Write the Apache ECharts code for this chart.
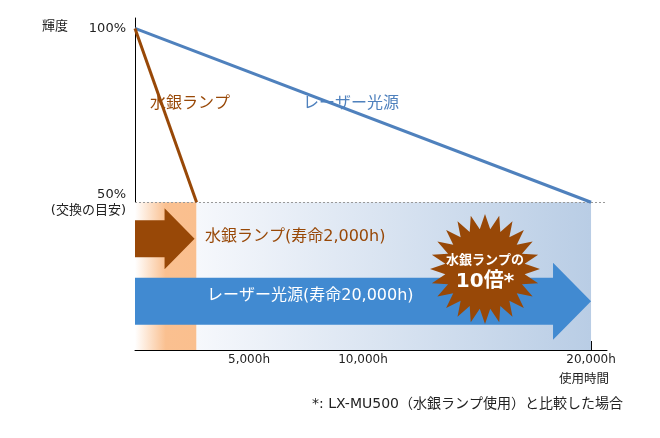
<!DOCTYPE html>
<html><head><meta charset="utf-8">
<script src="https://cdn.jsdelivr.net/npm/echarts@6/dist/echarts.min.js"></script>
<style>html,body{margin:0;padding:0;background:#fff}#c{width:660px;height:438px}</style>
</head><body><div id="c"></div>
<script>
const FONT = '"DejaVu Sans", "Noto Sans CJK JP", sans-serif';
// data
const laserLine = [[0, 100], [20000, 50]];
const mercuryLine = [[0, 100], [2700, 50]];
const mercuryLife = 2700;
const laserLife = 20000;
const replaceLevel = 50;
const xTicks = [5000, 10000, 20000];
const xTickLabels = ['5,000h', '10,000h', '20,000h'];
const yTicks = [50, 100];
const yTickLabels = ['50%', '100%'];
// [from, to, level, kind]
const arrowData = [[0, mercuryLife, 39.5, 0], [0, laserLife, 21.5, 1]];
const X_MAX = 20700, Y_MIN = 7.5, Y_MAX = 103;

const BROWN = '#984807', BLUE_LINE = '#4f81bd', BLUE_ARROW = '#418ad1';

const chart = echarts.init(document.getElementById('c'));

function starPoints(cx, cy, ro, ri, n) {
  const pts = [];
  for (let i = 0; i < n * 2; i++) {
    const r = i % 2 === 0 ? ro : ri;
    const a = -Math.PI / 2 + i * Math.PI / n;
    pts.push([cx + r * Math.cos(a), cy + r * Math.sin(a)]);
  }
  return pts;
}

chart.setOption({
  animation: false,
  textStyle: { fontFamily: FONT },
  grid: { left: 135, right: 53, top: 18, bottom: 88 },
  xAxis: {
    type: 'value', min: 0, max: X_MAX,
    splitLine: { show: false },
    axisLine: { lineStyle: { color: '#000', width: 1 } },
    axisTick: { show: true, inside: true, length: 9, customValues: xTicks, lineStyle: { color: '#000' } },
    axisLabel: {
      customValues: xTicks, color: '#222', fontSize: 12, margin: 4, fontFamily: FONT,
      formatter: v => xTickLabels[xTicks.indexOf(v)] || ''
    }
  },
  yAxis: {
    type: 'value', min: Y_MIN, max: Y_MAX,
    splitLine: { show: false },
    axisLine: { show: true, lineStyle: { color: '#000', width: 1 } },
    axisTick: { show: false },
    axisLabel: {
      customValues: yTicks, color: '#222', fontSize: 13, margin: 9, fontFamily: FONT,
      formatter: v => v === 50 ? yTickLabels[0] + '\n(交換の目安)' : yTickLabels[1],
      lineHeight: 16, padding: [0, 0, 5, 0]
    }
  },
  series: [
    {
      type: 'line', data: laserLine, symbol: 'none', z: 5,
      lineStyle: { color: BLUE_LINE, width: 3 },
      markArea: {
        silent: true,
        data: [
          [{ xAxis: 0, yAxis: Y_MIN, itemStyle: { color: new echarts.graphic.LinearGradient(0, 0, 1, 0, [{ offset: 0, color: '#ffffff' }, { offset: 0.5, color: '#fac090' }, { offset: 1, color: '#fabf8e' }]) } },
           { xAxis: mercuryLife, yAxis: replaceLevel }],
          [{ xAxis: mercuryLife, yAxis: Y_MIN, itemStyle: { color: new echarts.graphic.LinearGradient(0, 0, 1, 0, [{ offset: 0, color: '#f6f8fc' }, { offset: 1, color: '#b9cde5' }]) } },
           { xAxis: laserLife, yAxis: replaceLevel }]
        ]
      },
      markLine: {
        silent: true, symbol: 'none', label: { show: false },
        lineStyle: { color: '#999', type: [2, 2], width: 1 },
        data: [[{ xAxis: 0, yAxis: replaceLevel }, { xAxis: X_MAX, yAxis: replaceLevel }]]
      }
    },
    {
      type: 'line', data: mercuryLine, symbol: 'none', z: 5,
      lineStyle: { color: BROWN, width: 3 }
    },
    {
      type: 'custom', data: arrowData, z: 4, clip: false,
      encode: { x: [0, 1], y: 2 },
      renderItem: (params, api) => {
        const a = api.coord([api.value(0), api.value(2)]);
        const b = api.coord([api.value(1), api.value(2)]);
        const k = api.value(3);
        const g = k === 0 ? { body: 18.5, head: 30.5, len: 30, back: 2, color: BROWN }
                          : { body: 23.5, head: 38.5, len: 38, back: 0, color: BLUE_ARROW };
        const tipX = b[0] - g.back, cy = a[1], x0 = a[0], hx = tipX - g.len;
        return {
          type: 'polygon',
          shape: { points: [[x0, cy - g.body], [hx, cy - g.body], [hx, cy - g.head], [tipX, cy], [hx, cy + g.head], [hx, cy + g.body], [x0, cy + g.body]] },
          style: { fill: g.color }
        };
      }
    }
  ],
  graphic: [
    { type: 'text', left: 42, top: 20, style: { text: '輝度', fontSize: 13, fill: '#222', fontFamily: FONT } },
    { type: 'text', left: 150, top: 96, style: { text: '水銀ランプ', fontSize: 16, fill: BROWN, fontFamily: FONT } },
    { type: 'text', left: 303, top: 96, style: { text: 'レーザー光源', fontSize: 16, fill: BLUE_LINE, fontFamily: FONT } },
    { type: 'text', left: 205, top: 229, z: 10, style: { text: '水銀ランプ(寿命2,000h)', fontSize: 16, fill: BROWN, fontFamily: FONT } },
    { type: 'text', left: 207, top: 288, z: 10, style: { text: 'レーザー光源(寿命20,000h)', fontSize: 16, fill: '#fff', fontFamily: FONT } },
    { type: 'polygon', z: 20, shape: { points: starPoints(485, 269, 55, 40, 24) }, style: { fill: BROWN } },
    { type: 'text', z: 21, x: 485, y: 261, style: { text: '水銀ランプの', fontSize: 13, fill: '#fff', align: 'center', verticalAlign: 'middle', fontFamily: FONT, fontWeight: 'bold' } },
    { type: 'text', z: 21, x: 485, y: 282, style: { text: '10倍*', fontSize: 20, fill: '#fff', align: 'center', verticalAlign: 'middle', fontFamily: FONT, fontWeight: 'bold' } },
    { type: 'text', x: 584, y: 380, style: { text: '使用時間', fontSize: 12.5, fill: '#222', align: 'center', verticalAlign: 'middle', fontFamily: FONT } },
    { type: 'text', x: 312, y: 404, style: { text: '*: LX-MU500（水銀ランプ使用）と比較した場合', fontSize: 14, fill: '#222', verticalAlign: 'middle', fontFamily: FONT } }
  ]
});
</script></body></html>
